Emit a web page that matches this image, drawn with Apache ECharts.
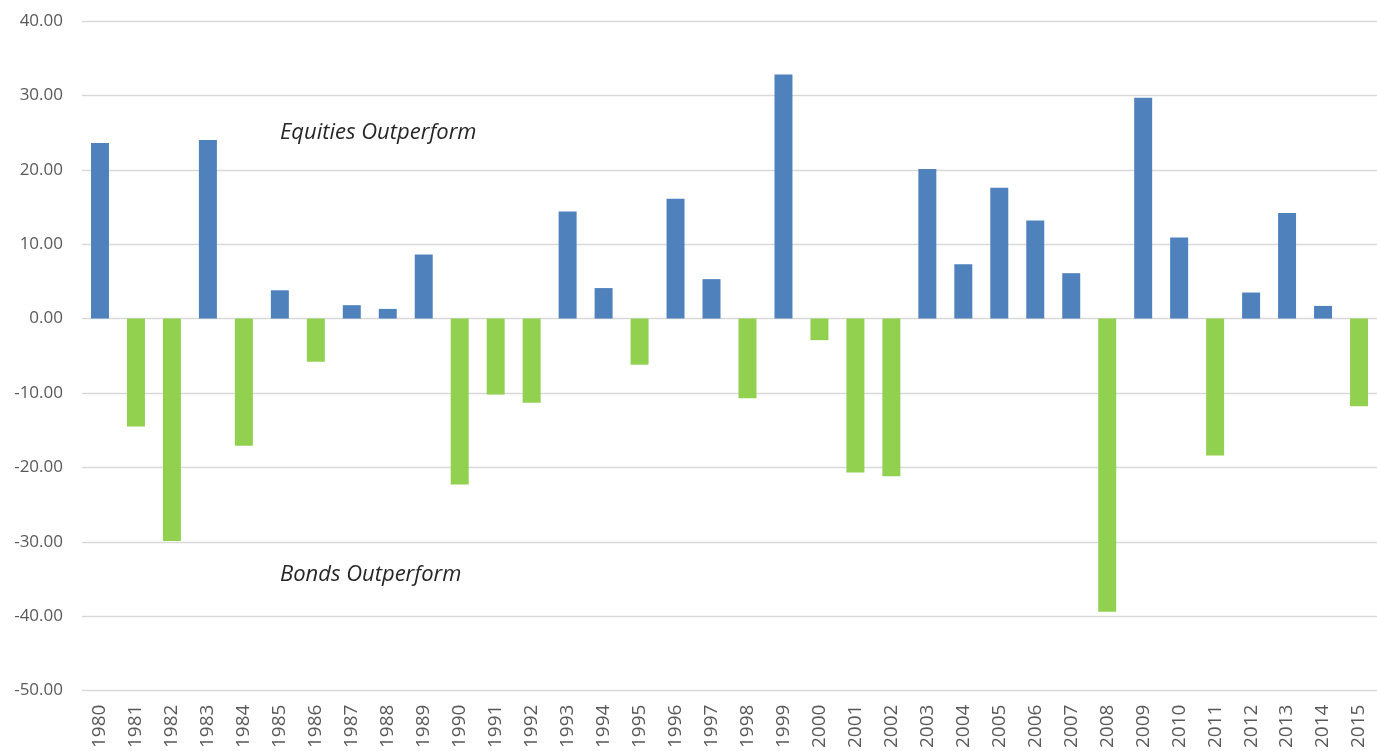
<!DOCTYPE html>
<html>
<head>
<meta charset="utf-8">
<script src="https://cdn.jsdelivr.net/npm/echarts@6/dist/echarts.min.js"></script>
<style>
  html, body { margin: 0; padding: 0; background: #fff; overflow: hidden; }
  #echart { width: 1377px; height: 751px; }
</style>
</head>
<body>
<div id="echart"></div>
<script>
var years = ['1980', '1981', '1982', '1983', '1984', '1985', '1986', '1987', '1988', '1989',
             '1990', '1991', '1992', '1993', '1994', '1995', '1996', '1997', '1998', '1999',
             '2000', '2001', '2002', '2003', '2004', '2005', '2006', '2007', '2008', '2009',
             '2010', '2011', '2012', '2013', '2014', '2015'];
// equities minus bonds, % per year
var spread = [23.6, -14.5, -29.9, 24.0, -17.1, 3.8, -5.8, 1.8, 1.3, 8.6,
              -22.3, -10.2, -11.3, 14.4, 4.1, -6.2, 16.1, 5.3, -10.7, 32.8,
              -2.9, -20.7, -21.2, 20.1, 7.3, 17.6, 13.2, 6.1, -39.4, 29.7,
              10.9, -18.4, 3.5, 14.2, 1.7, -11.8];
var yMin = -50, yMax = 40, yStep = 10;

var myChart = echarts.init(document.getElementById('echart'));

var option = {
    animation: false,
    backgroundColor: '#fff',
    // plot area runs a little past the right edge, like the cropped original
    grid: { left: 82, right: -10, top: 21, bottom: 53 },
    xAxis: {
        type: 'category',
        data: years,
        axisLine: { show: false },
        axisTick: { show: false },
        axisLabel: {
            rotate: 90,
            margin: 14,
            color: '#595959',
            fontFamily: 'Open Sans',
            fontSize: 19
        }
    },
    yAxis: {
        type: 'value',
        min: yMin,
        max: yMax,
        interval: yStep,
        axisLine: { show: false },
        axisTick: { show: false },
        splitLine: { lineStyle: { color: '#d9d9d9', width: 1.3 } },
        axisLabel: {
            margin: 19,
            color: '#595959',
            fontFamily: 'Open Sans',
            fontSize: 17,
            formatter: function (v) { return v.toFixed(2); }
        }
    },
    graphic: [
        {
            type: 'text', left: 280, top: 122,
            style: { text: 'Equities Outperform', font: 'italic 22px "Open Sans"', fill: '#262626' }
        },
        {
            type: 'text', left: 280, top: 564,
            style: { text: 'Bonds Outperform', font: 'italic 22px "Open Sans"', fill: '#262626' }
        }
    ],
    series: [{
        type: 'bar',
        data: spread,
        barWidth: '50%',
        itemStyle: {
            color: function (p) { return p.value >= 0 ? '#4f81bd' : '#92d050'; }
        }
    }]
};

myChart.setOption(option);
</script>
</body>
</html>
